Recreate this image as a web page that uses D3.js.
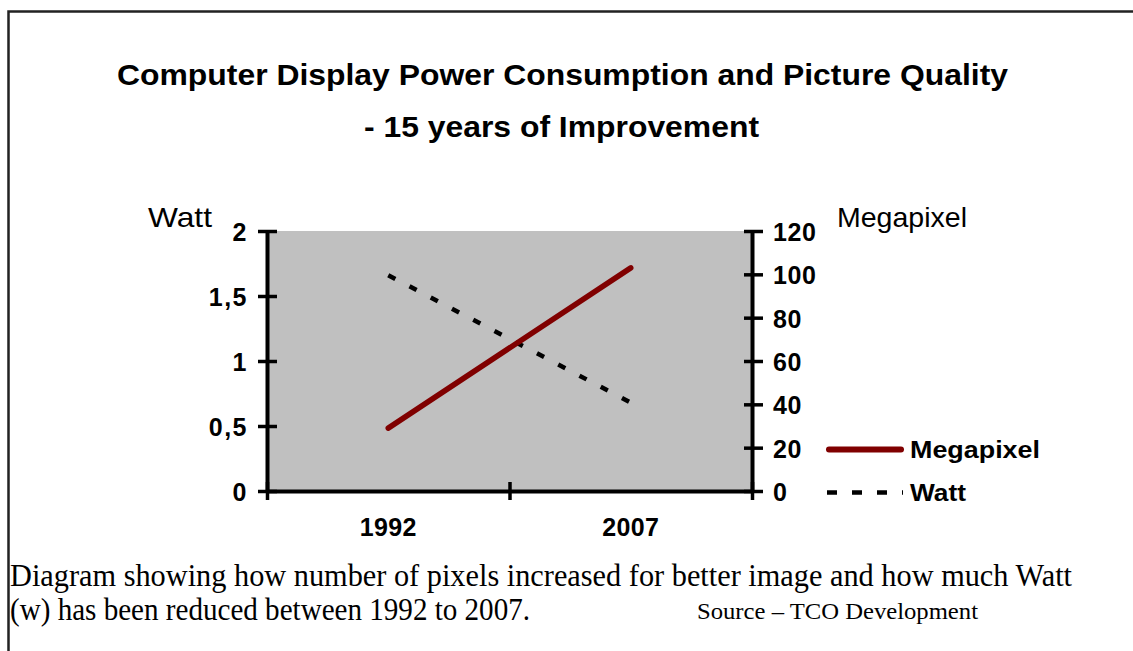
<!DOCTYPE html>
<html><head><meta charset="utf-8">
<script src="https://cdn.jsdelivr.net/npm/d3@7"></script>
<style>html,body{margin:0;padding:0;background:#fff;}svg{display:block;}</style>
</head><body>
<script>
const categories = ["1992", "2007"];
const megapixel = [29, 103];
const watt = [1.66, 0.68];
const wattTicks = [0, 0.5, 1, 1.5, 2];
const wattTickLabels = ["0", "0,5", "1", "1,5", "2"];
const mpTicks = [0, 20, 40, 60, 80, 100, 120];
const seriesNames = ["Megapixel", "Watt"];

const W = 1133, H = 651;
const svg = d3.select("body").append("svg").attr("width", W).attr("height", H);
const sans = "'Liberation Sans', Arial, sans-serif";
const serif = "'Liberation Serif', 'Times New Roman', serif";

// frame
svg.append("path").attr("d", "M8.5,651 V11.5 H1133").attr("fill", "none").attr("stroke", "#222").attr("stroke-width", 2.5);

function txt(s, x, y, size, weight, family, anchor, len) {
  const t = svg.append("text").attr("x", x).attr("y", y).attr("font-size", size)
    .attr("font-weight", weight).attr("font-family", family).attr("text-anchor", anchor || "start")
    .attr("fill", "#000").text(s);
  if (len) t.attr("textLength", len).attr("lengthAdjust", "spacingAndGlyphs");
  return t;
}
txt("Computer Display Power Consumption and Picture Quality", 562.5, 85, 30, "bold", sans, "middle", 891);
txt("- 15 years of Improvement", 561.5, 137, 30, "bold", sans, "middle", 395);

const L = 267, R = 752, T = 231, B = 491;
const x = d3.scaleBand().domain(categories).range([L, R]).padding(0);
const xb = d3.scaleLinear().domain([0, categories.length]).range([L, R]);
const yW = d3.scaleLinear().domain([0, 2]).range([B, T]);
const yM = d3.scaleLinear().domain([0, 120]).range([B, T]);

svg.append("rect").attr("x", L).attr("y", T).attr("width", R - L).attr("height", B - T).attr("fill", "#c0c0c0");

// lines
const cx = (d, i) => x(categories[i]) + x.bandwidth() / 2;
const lineM = d3.line().x(cx).y(d => yM(d));
const lineW = d3.line().x(cx).y(d => yW(d));
svg.append("path").attr("d", lineW(watt)).attr("fill", "none").attr("stroke", "#000")
  .attr("stroke-width", 4.5).attr("stroke-dasharray", "8,16");
svg.append("path").attr("d", lineM(megapixel)).attr("fill", "none").attr("stroke", "#800000")
  .attr("stroke-width", 5.5).attr("stroke-linecap", "round");

// axes
function styleAxis(g, ls) {
  g.selectAll("path.domain").attr("stroke", "#000").attr("stroke-width", 4);
  g.selectAll(".tick line").attr("stroke", "#000").attr("stroke-width", 3.5);
  g.selectAll("text").attr("font-family", sans).attr("font-weight", "bold").attr("font-size", 25)
    .attr("letter-spacing", ls).attr("fill", "#000");
}
const gL = svg.append("g").attr("transform", `translate(${L},0)`)
  .call(d3.axisLeft(yW).tickValues(wattTicks).tickFormat((d, i) => wattTickLabels[i]).tickSize(9).tickSizeOuter(0).tickPadding(10));
styleAxis(gL, 1.5);
gL.selectAll(".tick line").attr("x2", -9).attr("x1", 10);
gL.selectAll(".tick text").attr("dy", "0.38em");

const gR = svg.append("g").attr("transform", `translate(${R},0)`)
  .call(d3.axisRight(yM).tickValues(mpTicks).tickSize(10).tickSizeOuter(0).tickPadding(11));
styleAxis(gR, 0.6);
gR.selectAll(".tick line").attr("x1", -8).attr("x2", 11);
gR.selectAll(".tick text").attr("dy", "0.38em");

const gB = svg.append("g").attr("transform", `translate(0,${B})`)
  .call(d3.axisBottom(xb).tickValues(d3.range(categories.length + 1)).tickFormat("").tickSize(9).tickSizeOuter(0));
styleAxis(gB, 0);
gB.selectAll(".tick line").attr("y1", -9).attr("y2", 9);
const gB2 = svg.append("g").attr("transform", `translate(0,${B})`)
  .call(d3.axisBottom(x).tickSize(0).tickPadding(27));
gB2.select("path.domain").remove();
styleAxis(gB2, 0.4);
gB2.selectAll("text").attr("dy", "0.71em");

// axis titles
txt("Watt", 148, 227, 28, "normal", sans, "start", 64);
txt("Megapixel", 837, 227, 28, "normal", sans, "start", 130);

// legend
const leg = svg.append("g");
leg.append("line").attr("x1", 829).attr("x2", 901).attr("y1", 449.5).attr("y2", 449.5)
  .attr("stroke", "#800000").attr("stroke-width", 6).attr("stroke-linecap", "round");
leg.append("line").attr("x1", 827).attr("x2", 903).attr("y1", 492.5).attr("y2", 492.5)
  .attr("stroke", "#000").attr("stroke-width", 4.5).attr("stroke-dasharray", "10,15");
txt(seriesNames[0], 910, 458, 24, "bold", sans, "start", 130);
txt(seriesNames[1], 910, 501, 24, "bold", sans, "start", 56);

// footnote
txt("Diagram showing how number of pixels increased for better image and how much Watt", 10, 586, 32, "normal", serif, "start", 1062);
txt("(w) has been reduced between 1992 to 2007.", 10, 620, 32, "normal", serif, "start", 520);
txt("Source \u2013 TCO Development", 697, 619, 23, "normal", serif, "start", 281);
</script>
</body></html>
